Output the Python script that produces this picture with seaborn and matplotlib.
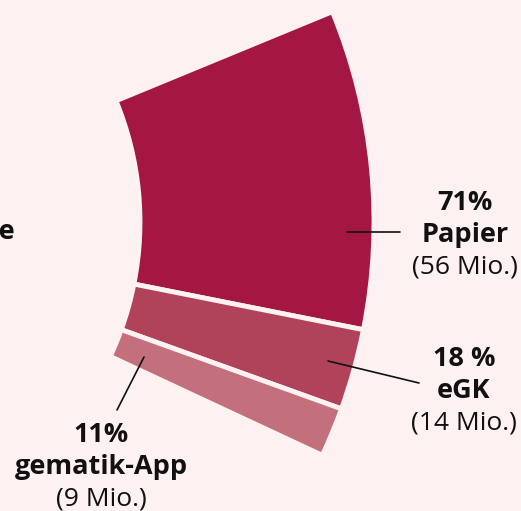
import numpy as np
import seaborn as sns
import matplotlib.pyplot as plt

# data
labels = ['Papier', 'eGK', 'gematik-App']
pct_text = ['71%', '18 %', '11%']
shares = [71, 18, 11]
counts = ['(56 Mio.)', '(14 Mio.)', '(9 Mio.)']
colors = ['#a31742', '#b0435a', '#c4707c']

bg = '#fdf1f1'
W, H = 521, 511

sns.set_theme(style='white', rc={'axes.facecolor': bg, 'figure.facecolor': bg})
plt.rcParams['font.family'] = ['Open Sans', 'DejaVu Sans']

fig = plt.figure(figsize=(W / 100, H / 100), dpi=100)
ax = fig.add_axes([0, 0, 1, 1])

# the donut is a small slice of a big ring whose centre lies left of the figure
span = 47.4  # degrees covered by the whole ring segment
fracs = np.array(shares) / 100 * span / 360
ax.pie(fracs, colors=colors, startangle=22.4, counterclock=False,
       radius=552, center=(-178, H - 222), normalize=False, frame=True,
       wedgeprops=dict(width=234, edgecolor=bg, linewidth=3.5))

ax.set_xlim(0, W)
ax.set_ylim(0, H)
ax.set_axis_off()

# label groups: (x, y of first line) in image pixels
label_pos = [(465, 203), (464, 359), (101, 435)]
line_gap = 32
fs = 19.5
for (x, y), p, lab, c in zip(label_pos, pct_text, labels, counts):
    ax.text(x, H - y, p, ha='center', va='center', fontsize=fs, fontweight='bold', color='#111111')
    ax.text(x, H - y - line_gap, lab, ha='center', va='center', fontsize=fs, fontweight='bold', color='#111111')
    ax.text(x, H - y - 2 * line_gap, c, ha='center', va='center', fontsize=fs - 0.5, color='#111111')

# leader lines
leaders = [((347, 232), (400, 232)), ((328, 361), (419, 383)), ((144, 357), (117, 410))]
for (x0, y0), (x1, y1) in leaders:
    ax.plot([x0, x1], [H - y0, H - y1], color='#111111', lw=1.2)

# centre label, mostly outside the visible area
ax.text(15, H - 232, 'E-Rezepte', ha='right', va='center', fontsize=fs, fontweight='bold', color='#111111')

plt.savefig('out.png', dpi=100, facecolor=bg)
